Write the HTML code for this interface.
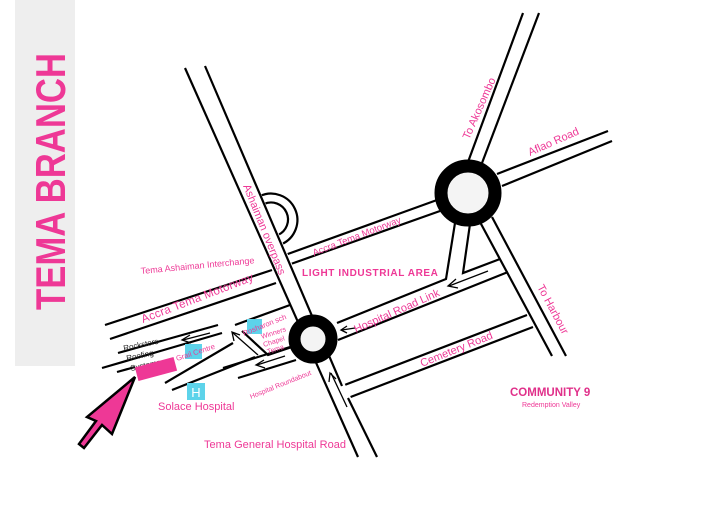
<!DOCTYPE html>
<html><head><meta charset="utf-8"><style>
html,body{margin:0;padding:0;background:#fff;}
svg{display:block;}
text{font-family:"Liberation Sans",sans-serif;fill:#ee3896;}
</style></head><body>
<svg width="720" height="509" viewBox="0 0 720 509" xmlns="http://www.w3.org/2000/svg">
<rect x="15" y="0" width="60" height="366" fill="#eeeeee"/>
<text transform="translate(65,310) rotate(-90)" font-size="42" font-weight="bold" textLength="257" lengthAdjust="spacingAndGlyphs">TEMA BRANCH</text>

<g fill="none" stroke="#000" stroke-width="2.2">
<line x1="105" y1="325" x2="272" y2="270"/>
<line x1="285" y1="255" x2="437" y2="200"/>
<line x1="110" y1="339" x2="276" y2="283"/>
<line x1="288" y1="265" x2="440" y2="211"/>
<line x1="497" y1="174" x2="608" y2="131"/>
<line x1="502" y1="186" x2="612" y2="141"/>
<line x1="468" y1="162" x2="523" y2="13"/>
<line x1="482" y1="163" x2="539" y2="13"/>
<line x1="480" y1="222" x2="552" y2="356"/>
<line x1="492" y1="217" x2="566" y2="356"/>
<polyline points="455,223 446,279 337,323"/>
<polyline points="470,224 463,273 500,259"/>
<line x1="338" y1="340" x2="508" y2="272"/>
<line x1="342" y1="386" x2="527" y2="315"/>
<line x1="348" y1="398" x2="533" y2="327"/>
<path d="M260,196 A25,25 0 0 1 282,244"/>
<path d="M264,204 A17,17 0 0 1 278,235"/>
<line x1="118" y1="353" x2="218" y2="325"/>
<line x1="102" y1="368" x2="222" y2="333"/>
<line x1="117" y1="372" x2="135" y2="367"/>
<line x1="235" y1="325" x2="290" y2="305"/>
<polyline points="242,331 268,355 292,347"/>
<line x1="165" y1="383" x2="233" y2="343"/>
<line x1="172" y1="390" x2="255" y2="357"/>
<line x1="223" y1="368" x2="290" y2="347"/>
<line x1="238" y1="378" x2="296" y2="360"/>
</g>
<polygon points="185,68 205,66 377,457 358,457" fill="#fff"/>
<g stroke="#000" stroke-width="2.2">
<line x1="185" y1="68" x2="358" y2="457"/>
<line x1="205" y1="66" x2="342" y2="386"/>
<line x1="348" y1="398" x2="377" y2="457"/>
</g>

<circle cx="468" cy="193" r="27" fill="#f4f4f4" stroke="#000" stroke-width="13"/>
<circle cx="313" cy="339" r="18.5" fill="#f4f4f4" stroke="#000" stroke-width="12"/>

<g stroke="#000" stroke-width="1.3" fill="none">
<line x1="488" y1="271" x2="449" y2="286"/><polyline points="456,279 448,286 458,288"/>
<line x1="355" y1="328" x2="342" y2="330"/><polyline points="347,326 341,330 347,333"/>
<line x1="347" y1="407" x2="331" y2="373"/><polyline points="329,382 330,373 336,379"/>
<line x1="210" y1="333" x2="183" y2="340"/><polyline points="190,335 182,340 191,343"/>
<line x1="258" y1="355" x2="233" y2="333"/><polyline points="234,341 232,332 240,335"/>
<line x1="285" y1="356" x2="257" y2="365"/><polyline points="264,360 256,365 265,368"/>
</g>

<text transform="translate(243,186) rotate(68)" font-size="11">Ashaiman overpass</text>
<text transform="translate(314,256) rotate(-21)" font-size="9.5">Accra Tema Motorway</text>
<text x="302" y="276" font-size="10" font-weight="bold" letter-spacing="0.6">LIGHT INDUSTRIAL AREA</text>
<text transform="translate(141,274) rotate(-5.4)" font-size="9">Tema Ashaiman Interchange</text>
<text transform="translate(143,323) rotate(-21)" font-size="11.5" letter-spacing="0.3">Accra Tema Motorway</text>
<text transform="translate(469,140) rotate(-66)" font-size="11">To Akosombo</text>
<text transform="translate(530,156) rotate(-24)" font-size="11">Aflao Road</text>
<text transform="translate(537,287) rotate(62)" font-size="11">To Harbour</text>
<text transform="translate(356,333) rotate(-24)" font-size="11">Hospital Road Link</text>
<text transform="translate(422,367) rotate(-22)" font-size="11">Cemetery Road</text>
<text x="510" y="396" font-size="11.5" font-weight="bold" style="fill:#e0308a">COMMUNITY 9</text>
<text x="522" y="407" font-size="7">Redemption Valley</text>
<text x="204" y="448" font-size="11" textLength="142" lengthAdjust="spacing">Tema General Hospital Road</text>
<text x="158" y="410" font-size="11">Solace Hospital</text>
<text transform="translate(251,399) rotate(-22)" font-size="7">Hospital Roundabout</text>

<rect x="185" y="344" width="17" height="15" fill="#5dd3ea"/>
<rect x="247" y="319" width="15" height="15" fill="#5dd3ea"/>
<rect x="187" y="383" width="18" height="17" fill="#5dd3ea"/>
<text x="196" y="397" font-size="13" text-anchor="middle" style="fill:#fff">H</text>
<text transform="translate(177,361) rotate(-18)" font-size="7.5">Grail Centre</text>
<text transform="translate(244,336) rotate(-22)" font-size="7.5">Rosharon sch</text>
<text transform="translate(262,339) rotate(-18)" font-size="7">Winners</text>
<text transform="translate(264,347) rotate(-18)" font-size="7">Chapel</text>
<text transform="translate(268,354) rotate(-18)" font-size="7">Tema</text>
<text transform="translate(124,351) rotate(-12)" font-size="8" style="fill:#222">Rocksters</text>
<text transform="translate(127,361) rotate(-12)" font-size="8" style="fill:#222">Roofing</text>
<text transform="translate(131,371) rotate(-12)" font-size="8" style="fill:#222">Systems</text>
<rect x="136" y="362" width="40" height="14" fill="#ee3896" transform="rotate(-15 156 369)"/>
<polygon points="135,377 112,434 102,425 84,448 79,444 96,421 87,417" fill="#ee3896" stroke="#000" stroke-width="2.5" stroke-linejoin="miter"/>
</svg>
</body></html>
